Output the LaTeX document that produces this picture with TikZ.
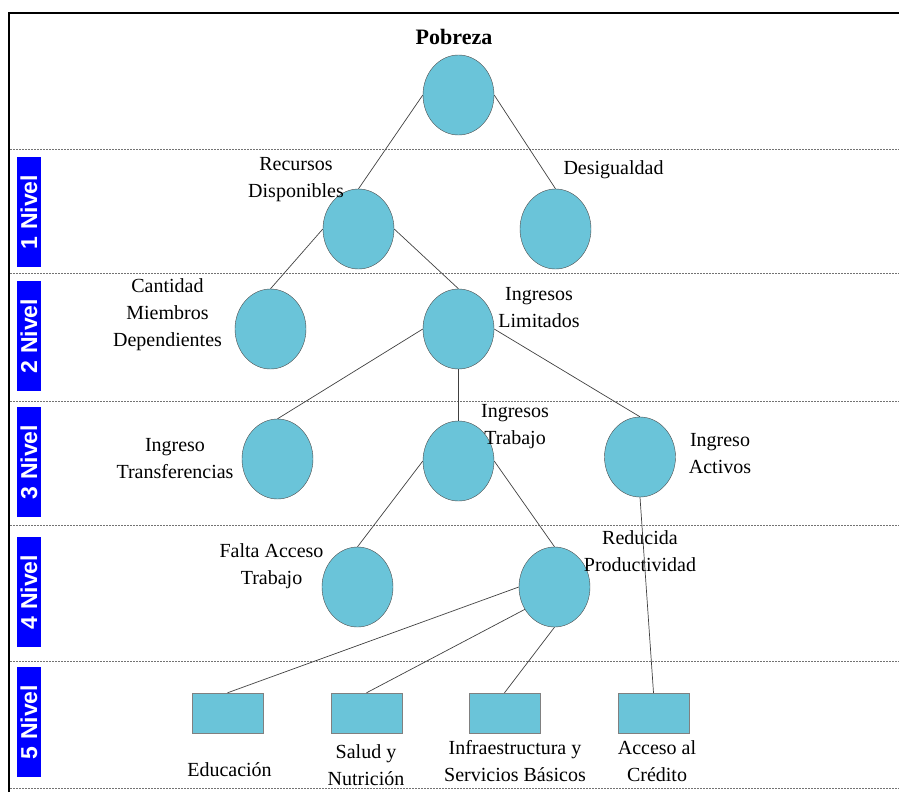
\documentclass[tikz,border=0pt]{standalone}
\usepackage{fontspec}
\setmainfont{Liberation Serif}
\newfontfamily\levelfont{Liberation Sans}
\usepackage{xcolor}
\usepackage{tikz}
\usetikzlibrary{shapes}
\usetikzlibrary{positioning}
\definecolor{nodefill}{HTML}{6AC4D9}
\def\edgecolor{black!75}
\tikzset{causa/.style={draw=black!70, fill=nodefill, ellipse, minimum width=71pt, minimum height=80pt, inner sep=0pt}}
\tikzset{factor/.style={draw=black!50, fill=nodefill, rectangle, minimum width=71pt, minimum height=40pt, inner sep=0pt}}
\tikzset{etiqueta/.style={align=center, font=\fontsize{20}{27}\selectfont, inner sep=0pt}}
\tikzset{nivel/.style={fill=blue, text=white, rotate=90, minimum width=110pt, minimum height=24pt, inner sep=0pt, font=\levelfont\bfseries\fontsize{23}{24}\selectfont}}
\tikzset{connection/.style={draw=\edgecolor, line width=0.7pt}}
\tikzset{separador/.style={draw=black!55, dash pattern=on 2pt off 1pt, line width=0.8pt}}

\begin{document}
\begin{tikzpicture}[x=1pt, y=-1pt]
        \useasboundingbox (0,0) rectangle (899,792);

        % Frame and level bands
        \draw[line width=1.6pt] (9,792) -- (9,13) -- (899,13);
        \foreach \y in {149,273,401,525,661,788}
            \draw[separador] (10,\y) -- (899,\y);
        \foreach \n/\y in {1/212,2/336,3/462,4/592,5/722}
            \node[nivel] (nivel\n) at (29,\y) {\n\ Nivel};

        % Nodes
        \node[causa] (pobreza) at (458.5,95) {};
        \node[causa] (recursos) at (358.5,229) {};
        \node[causa] (desigualdad) at (555.5,229) {};
        \node[causa] (cantidad) at (270.5,329) {};
        \node[causa] (limitados) at (458.5,329) {};
        \node[causa] (transferencias) at (277.5,459) {};
        \node[causa] (trabajo) at (458.5,461) {};
        \node[causa] (activos) at (640,457) {};
        \node[causa] (falta) at (357.5,587) {};
        \node[causa] (productividad) at (554.5,587) {};
        \node[factor] (educacion) at (227.5,713) {};
        \node[factor] (salud) at (366.5,713) {};
        \node[factor] (infraestructura) at (504.5,713) {};
        \node[factor] (credito) at (653.5,713) {};

        % Labels
        \node[etiqueta, font=\bfseries\fontsize{22}{26}\selectfont] (pobreza_label) at (454,37) {Pobreza};
        \node[etiqueta] (recursos_label) at (296,180) {Recursos\\Disponibles};
        \node[etiqueta] (desigualdad_label) at (613.5,170) {Desigualdad};
        \node[etiqueta] (cantidad_label) at (167.5,314.5) {Cantidad\\Miembros\\Dependientes};
        \node[etiqueta] (limitados_label) at (539,307.5) {Ingresos\\Limitados};
        \node[etiqueta] (transferencias_label) at (175,458.5) {Ingreso\\Transferencias};
        \node[etiqueta] (trabajo_label) at (515,426.5) {Ingresos\\Trabajo};
        \node[etiqueta] (activos_label) at (720,454) {Ingreso\\Activos};
        \node[etiqueta] (falta_label) at (271.5,566) {Falta Acceso\\Trabajo};
        \node[etiqueta] (productividad_label) at (640,551) {Reducida\\Productividad};
        \node[etiqueta] (educacion_label) at (229.5,770) {Educación};
        \node[etiqueta] (salud_label) at (366,765.5) {Salud y\\Nutrición};
        \node[etiqueta] (infraestructura_label) at (515,761.5) {Infraestructura y\\Servicios Básicos};
        \node[etiqueta] (credito_label) at (657,761.5) {Acceso al\\Crédito};

        % Connections
        \draw[connection] (pobreza.west) -- (recursos.north);
        \draw[connection] (pobreza.east) -- (desigualdad.north);
        \draw[connection] (recursos.west) -- (cantidad.north);
        \draw[connection] (recursos.east) -- (limitados.north);
        \draw[connection] (limitados.west) -- (transferencias.north);
        \draw[connection] (limitados.south) -- (trabajo.north);
        \draw[connection] (limitados.east) -- (activos.north);
        \draw[connection] (trabajo.west) -- (falta.north);
        \draw[connection] (trabajo.east) -- (productividad.north);
        \draw[connection] (activos.south) -- (credito.north);
        \draw[connection] (productividad.west) -- (educacion.north);
        \draw[connection] (productividad.217) -- (salud.north);
        \draw[connection] (productividad.south) -- (infraestructura.north);
    \end{tikzpicture}
\end{document}
